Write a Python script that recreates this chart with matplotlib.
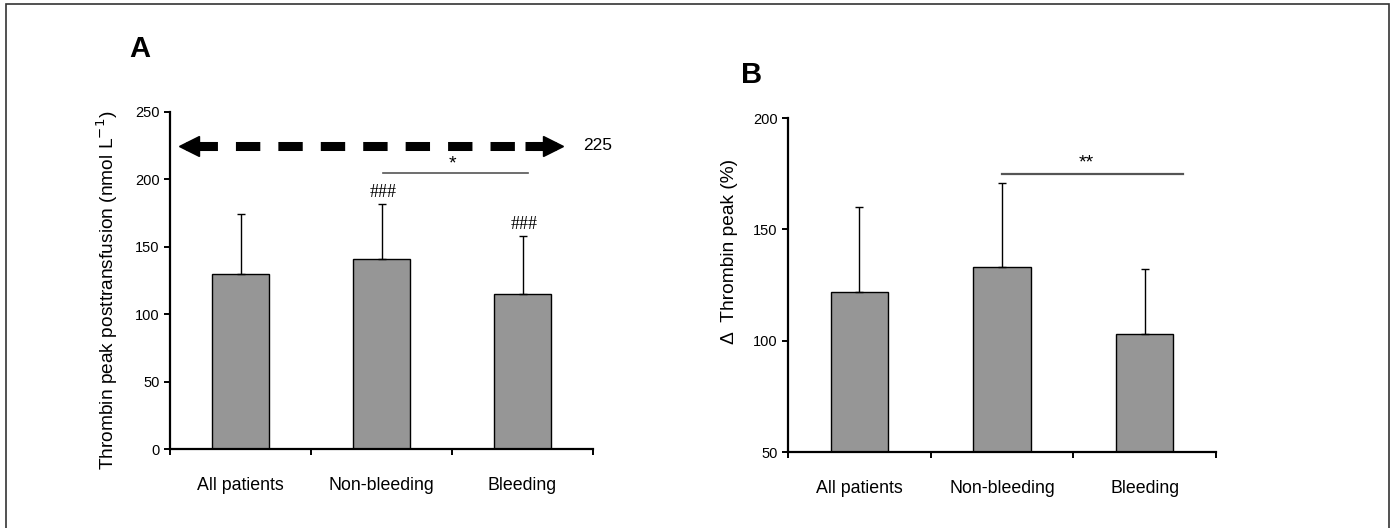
#  Thrombin peak: panel A absolute values, panel B relative change
import matplotlib
matplotlib.use('Agg')
from matplotlib import pyplot as plt
from matplotlib.patches import Rectangle
from matplotlib import transforms

plt.rcParams['font.family'] = ['Liberation Sans Narrow', 'Liberation Sans', 'DejaVu Sans']

#  data
groups = ['All patients', 'Non-bleeding', 'Bleeding']
peak_mean = [130, 141, 115]
peak_sd = [44, 41, 43]
peak_marks = ['', '###', '###']
reference_peak = 225
delta_mean = [122, 133, 103]
delta_sd = [38, 38, 29]

bar_color = '#969696'
label_font = ['Liberation Sans', 'DejaVu Sans']

fig = plt.figure(figsize=(13.94, 5.28), dpi=100)

#  outer frame of the figure (bottom edge cut off like in the original)
fig.patches.append(Rectangle((0.0043, -0.05), 0.9921, 1.0424, transform=fig.transFigure,
                             fill=False, edgecolor='#333333', lw=1.2))


def style_axes(ax):
    for side in ['top', 'right']:
        ax.spines[side].set_visible(False)
    for side in ['left', 'bottom']:
        ax.spines[side].set_linewidth(1.6)
    ax.set_xlim(-0.5, 2.5)
    ax.set_xticks([-0.5, 0.5, 1.5, 2.5])
    ax.set_xticklabels([])
    ax.tick_params(axis='x', which='major', direction='out', length=4, width=1.4)
    ax.set_xticks(range(len(groups)), minor=True)
    ax.set_xticklabels(groups, minor=True, fontsize=12.8, family=label_font)
    ax.tick_params(axis='x', which='minor', length=0, pad=20)
    ax.tick_params(axis='y', direction='out', length=4, width=1.4, labelsize=10.5)


def draw_bars(ax, mean, sd, bottom):
    x = range(len(groups))
    heights = [m - bottom for m in mean]
    ax.bar(x, heights, bottom=bottom, width=0.4, color=bar_color, edgecolor='black', lw=1, zorder=2)
    ax.errorbar(x, mean, yerr=[[0] * len(sd), sd], fmt='none', ecolor='black', elinewidth=1,
                capsize=3, capthick=1, zorder=3)


#  panel A
ax1 = fig.add_axes([0.122, 0.1496, 0.3034, 0.6383])
draw_bars(ax1, peak_mean, peak_sd, 0)
style_axes(ax1)
ax1.set_ylim(0, 250)
ax1.set_yticks(range(0, 251, 50))
ax1.set_ylabel('Thrombin peak posttransfusion (nmol L$^{-1}$)', fontsize=13.8, family=label_font)
ax1.yaxis.set_label_coords(-0.118, 0.47)

for i, mark in enumerate(peak_marks):
    if mark:
        ax1.annotate(mark, (i, peak_mean[i] + peak_sd[i]), xytext=(1, 2), textcoords='offset points',
                     ha='center', va='bottom', fontsize=13, family=['Liberation Serif'])

#  dashed double arrow for the reference value
x_left, x_right = -0.44, 2.29
ax1.plot([x_left + 0.1, x_right - 0.1], [reference_peak, reference_peak], color='black', lw=6.5,
         dashes=(2.7, 2.0), dash_capstyle='butt', clip_on=False, zorder=4)
head_l = transforms.offset_copy(ax1.transData, fig=fig, x=10, y=0, units='dots')
head_r = transforms.offset_copy(ax1.transData, fig=fig, x=-10, y=0, units='dots')
ax1.plot([x_left], [reference_peak], marker='<', ms=15, color='black', transform=head_l, clip_on=False)
ax1.plot([x_right], [reference_peak], marker='>', ms=15, color='black', transform=head_r, clip_on=False)
ax1.plot([x_left + 0.05, x_left + 0.27], [reference_peak, reference_peak], color='black', lw=6.5,
         solid_capstyle='butt', clip_on=False)
ax1.plot([x_right - 0.27, x_right - 0.05], [reference_peak, reference_peak], color='black', lw=6.5,
         solid_capstyle='butt', clip_on=False)
ax1.text(2.43, reference_peak, str(reference_peak), ha='left', va='center', fontsize=12.5,
         family=label_font, clip_on=False)

#  significance bar A
ax1.plot([1.01, 2.04], [205, 205], color='#555555', lw=1.2)
ax1.text(1.5, 205, '*', ha='center', va='bottom', fontsize=14, family=label_font)

#  panel B
ax2 = fig.add_axes([0.5653, 0.1439, 0.307, 0.6326])
draw_bars(ax2, delta_mean, delta_sd, 50)
style_axes(ax2)
ax2.set_ylim(50, 200)
ax2.set_yticks([50, 100, 150, 200])
ax2.set_ylabel('\u0394  Thrombin peak (%)', fontsize=13.8, family=label_font)
ax2.yaxis.set_label_coords(-0.117, 0.6)

ax2.plot([1.0, 2.27], [175, 175], color='#555555', lw=1.6)
ax2.text(1.59, 176, '**', ha='center', va='bottom', fontsize=14, family=label_font)

#  panel letters
fig.text(140 / 1394, 1 - 49 / 528, 'A', fontsize=21, fontweight='bold', ha='center', va='center',
         family=label_font)
fig.text(752 / 1394, 1 - 75 / 528, 'B', fontsize=21, fontweight='bold', ha='center', va='center',
         family=label_font)

plt.savefig('out.png', dpi=100)
